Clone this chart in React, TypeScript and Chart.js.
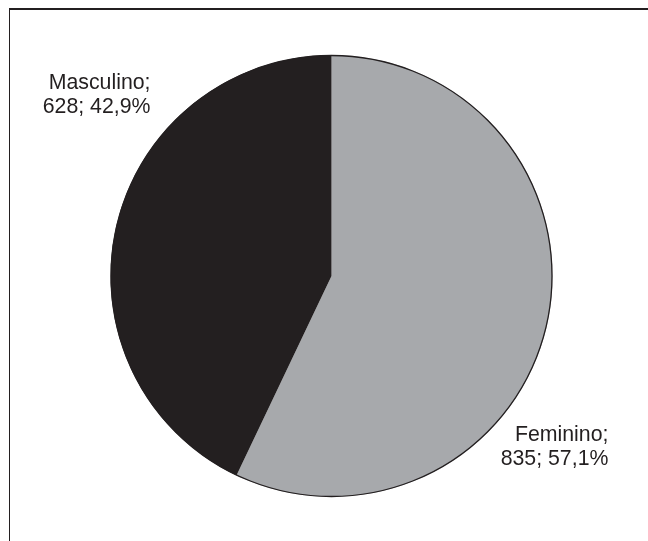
import React, { useEffect, useRef } from "react";
import { Chart, registerables } from "chart.js";

Chart.register(...registerables);

const categories = ["Feminino", "Masculino"];
const counts = [835, 628];
const percents = ["57,1%", "42,9%"];
const colors = ["#a7a9ac", "#231f20"];

const labelPlugin = {
  id: "sliceLabels",
  afterDatasetsDraw(chart: any) {
    const ctx = chart.ctx;
    const meta = chart.getDatasetMeta(0);
    const arc = meta.data[0];
    if (!arc) return;
    const cx = arc.x;
    const cy = arc.y;
    const r = arc.outerRadius;
    // label anchor offsets (right-aligned), relative to radius
    const anchors = [
      { dx: 1.253, dy: 0.722 },
      { dx: -0.819, dy: -0.874 },
    ];
    ctx.save();
    ctx.font = '21.3px "Liberation Sans", Arial, sans-serif';
    ctx.fillStyle = "#231f20";
    ctx.textAlign = "right";
    ctx.textBaseline = "middle";
    categories.forEach((c, i) => {
      const x = cx + anchors[i].dx * r;
      const y = cy + anchors[i].dy * r;
      ctx.fillText(c + ";", x, y);
      ctx.fillText(counts[i] + "; " + percents[i], x, y + 24);
    });
    ctx.restore();
  },
};

export default function App() {
  const ref = useRef<HTMLCanvasElement | null>(null);
  useEffect(() => {
    if (!ref.current) return;
    const chart = new Chart(ref.current, {
      type: "pie",
      data: {
        labels: categories,
        datasets: [
          {
            data: counts,
            backgroundColor: colors,
            borderColor: "#231f20",
            borderWidth: 0,
            hoverBorderWidth: 0,
            hoverOffset: 0,
          },
        ],
      },
      options: {
        animation: false,
        responsive: false,
        events: [],
        layout: { padding: { left: 60, right: 45, top: 55, bottom: 44 } },
        plugins: {
          legend: { display: false },
          tooltip: { enabled: false },
        },
      },
      plugins: [
        labelPlugin,
        {
          id: "outline",
          afterDatasetsDraw(chart: any) {
            const arc = chart.getDatasetMeta(0).data[0];
            if (!arc) return;
            const ctx = chart.ctx;
            ctx.save();
            ctx.beginPath();
            ctx.arc(arc.x, arc.y, arc.outerRadius - 0.5, 0, Math.PI * 2);
            ctx.strokeStyle = "#231f20";
            ctx.lineWidth = 1.3;
            ctx.stroke();
            ctx.restore();
          },
        },
      ],
    });
    return () => chart.destroy();
  }, []);
  return (
    <div style={{ position: "absolute", left: 0, top: 0, width: 648, height: 541, background: "#fff", overflow: "hidden" }}>
      <div
        style={{
          position: "absolute",
          left: 9,
          top: 8,
          width: 660,
          height: 560,
          borderTop: "2px solid #231f20",
          borderLeft: "1.5px solid #231f20",
        }}
      />
      <canvas ref={ref} width={648} height={541} style={{ position: "absolute", left: 0, top: 0 }} />
    </div>
  );
}
